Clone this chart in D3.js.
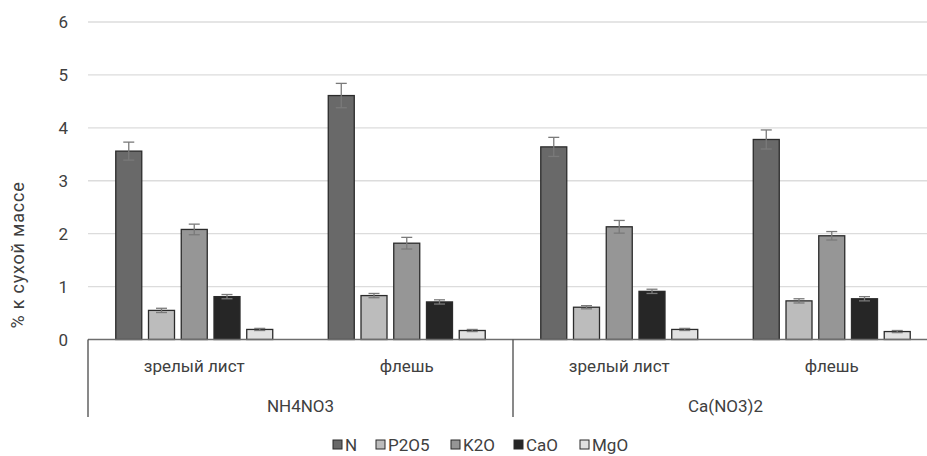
<!DOCTYPE html>
<html>
<head>
<meta charset="utf-8">
<script src="https://cdn.jsdelivr.net/npm/d3@7/dist/d3.min.js"></script>
<style>
  html, body { margin: 0; padding: 0; background: #fff; }
  svg { display: block; font-family: Roboto, "Open Sans", "Liberation Sans", sans-serif; }
</style>
</head>
<body>
<svg id="chart" width="927" height="456"></svg>
<script>
// Fertiliser groups and the leaf type within each
const groups = ["NH4NO3", "Ca(NO3)2"];
const leafTypes = ["зрелый лист", "флешь"];
const nutrients = ["N", "P2O5", "K2O", "CaO", "MgO"];

// Content, % of dry mass, per group/leaf type (order: N, P2O5, K2O, CaO, MgO)
const nh4LeafValues  = [3.56, 0.55, 2.08, 0.81, 0.19];
const nh4FlushValues = [4.61, 0.83, 1.82, 0.71, 0.17];
const caLeafValues   = [3.64, 0.61, 2.13, 0.91, 0.19];
const caFlushValues  = [3.78, 0.73, 1.96, 0.77, 0.15];

// Error bar half-widths (same order)
const nh4LeafErr  = [0.17, 0.04, 0.10, 0.04, 0.02];
const nh4FlushErr = [0.23, 0.04, 0.11, 0.04, 0.02];
const caLeafErr   = [0.18, 0.03, 0.12, 0.04, 0.02];
const caFlushErr  = [0.18, 0.04, 0.08, 0.04, 0.02];

const yTicks = [0, 1, 2, 3, 4, 5, 6];
const colors = ["#696969", "#bcbcbc", "#969696", "#262626", "#e1e1e1"];

const categories = [
  { group: groups[0], leaf: leafTypes[0], values: nh4LeafValues,  err: nh4LeafErr },
  { group: groups[0], leaf: leafTypes[1], values: nh4FlushValues, err: nh4FlushErr },
  { group: groups[1], leaf: leafTypes[0], values: caLeafValues,   err: caLeafErr },
  { group: groups[1], leaf: leafTypes[1], values: caFlushValues,  err: caFlushErr }
];

const svg = d3.select("#chart");
const plotLeft = 88, plotRight = 938, plotTop = 22, plotBottom = 339.5;
const textColor = "#404040";

const y = d3.scaleLinear().domain([0, 6]).range([plotBottom, plotTop]);
const x0 = d3.scaleBand().domain(d3.range(categories.length)).range([plotLeft, plotRight]).padding(0);
const x1 = d3.scaleBand().domain(nutrients).range([0, x0.bandwidth()])
  .paddingInner(0.206).paddingOuter(0.848);
const xg = d3.scaleBand().domain(groups).range([plotLeft, plotRight]).padding(0);

// Horizontal gridlines
svg.append("g").selectAll("line").data(yTicks.filter(d => d > 0)).join("line")
  .attr("x1", plotLeft).attr("x2", plotRight)
  .attr("y1", d => y(d)).attr("y2", d => y(d))
  .attr("stroke", "#dcdcdc").attr("stroke-width", 1.3);

// Y axis tick labels
svg.append("g").selectAll("text").data(yTicks).join("text")
  .attr("x", 68).attr("y", d => y(d)).attr("dy", "0.36em")
  .attr("text-anchor", "end").attr("font-size", 17).attr("fill", textColor)
  .text(d => d);

// Y axis title
svg.append("text")
  .attr("transform", "translate(24,255) rotate(-90)")
  .attr("text-anchor", "middle").attr("font-size", 18).attr("letter-spacing", 0.8)
  .attr("fill", textColor)
  .text("% к сухой массе");

// Bars
const cat = svg.append("g").selectAll("g").data(categories).join("g")
  .attr("transform", (d, i) => `translate(${x0(i)},0)`);

const rows = c => c.values.map((v, k) => ({ key: nutrients[k], v, e: c.err[k], color: colors[k] }));

cat.selectAll("rect").data(rows).join("rect")
  .attr("x", d => x1(d.key)).attr("width", x1.bandwidth())
  .attr("y", d => y(d.v)).attr("height", d => y(0) - y(d.v))
  .attr("fill", d => d.color).attr("stroke", "#2b2b2b").attr("stroke-width", 1.3);

// Error bars
const eb = cat.selectAll("g.err").data(rows).join("g").attr("class", "err")
  .attr("stroke", "#7a7a7a").attr("stroke-width", 1.3);
eb.append("line")
  .attr("x1", d => x1(d.key) + x1.bandwidth() / 2).attr("x2", d => x1(d.key) + x1.bandwidth() / 2)
  .attr("y1", d => y(d.v - d.e)).attr("y2", d => y(d.v + d.e));
eb.append("line")
  .attr("x1", d => x1(d.key) + x1.bandwidth() / 2 - 5.5).attr("x2", d => x1(d.key) + x1.bandwidth() / 2 + 5.5)
  .attr("y1", d => y(d.v + d.e)).attr("y2", d => y(d.v + d.e));
eb.append("line")
  .attr("x1", d => x1(d.key) + x1.bandwidth() / 2 - 5.5).attr("x2", d => x1(d.key) + x1.bandwidth() / 2 + 5.5)
  .attr("y1", d => y(d.v - d.e)).attr("y2", d => y(d.v - d.e));

// Category axis line
svg.append("line").attr("x1", plotLeft).attr("x2", plotRight)
  .attr("y1", plotBottom).attr("y2", plotBottom)
  .attr("stroke", "#6e6e6e").attr("stroke-width", 1.3);

// Group separators of the multi-level axis
const seps = groups.map(g => xg(g)).concat([plotRight]);
svg.append("g").selectAll("line").data(seps).join("line")
  .attr("x1", d => d).attr("x2", d => d)
  .attr("y1", plotBottom).attr("y2", 417)
  .attr("stroke", "#4a4a4a").attr("stroke-width", 1.3);

// Leaf type labels
svg.append("g").selectAll("text").data(categories).join("text")
  .attr("x", (d, i) => x0(i) + x0.bandwidth() / 2).attr("y", 372)
  .attr("text-anchor", "middle").attr("font-size", 17).attr("fill", textColor)
  .text(d => d.leaf);

// Group labels
svg.append("g").selectAll("text").data(groups).join("text")
  .attr("x", d => xg(d) + xg.bandwidth() / 2).attr("y", 412)
  .attr("text-anchor", "middle").attr("font-size", 17).attr("fill", textColor)
  .text(d => d);

// Legend
const legendX = [333, 376, 451, 514, 580];
const lg = svg.append("g").selectAll("g").data(nutrients).join("g")
  .attr("transform", (d, i) => `translate(${legendX[i]},440)`);
lg.append("rect").attr("x", 0).attr("y", 0).attr("width", 9).attr("height", 9)
  .attr("fill", (d, i) => colors[i]).attr("stroke", "#2b2b2b").attr("stroke-width", 1);
lg.append("text").attr("x", 12).attr("y", 4.5).attr("dy", "0.36em")
  .attr("font-size", 17).attr("fill", textColor).text(d => d);
</script>
</body>
</html>
